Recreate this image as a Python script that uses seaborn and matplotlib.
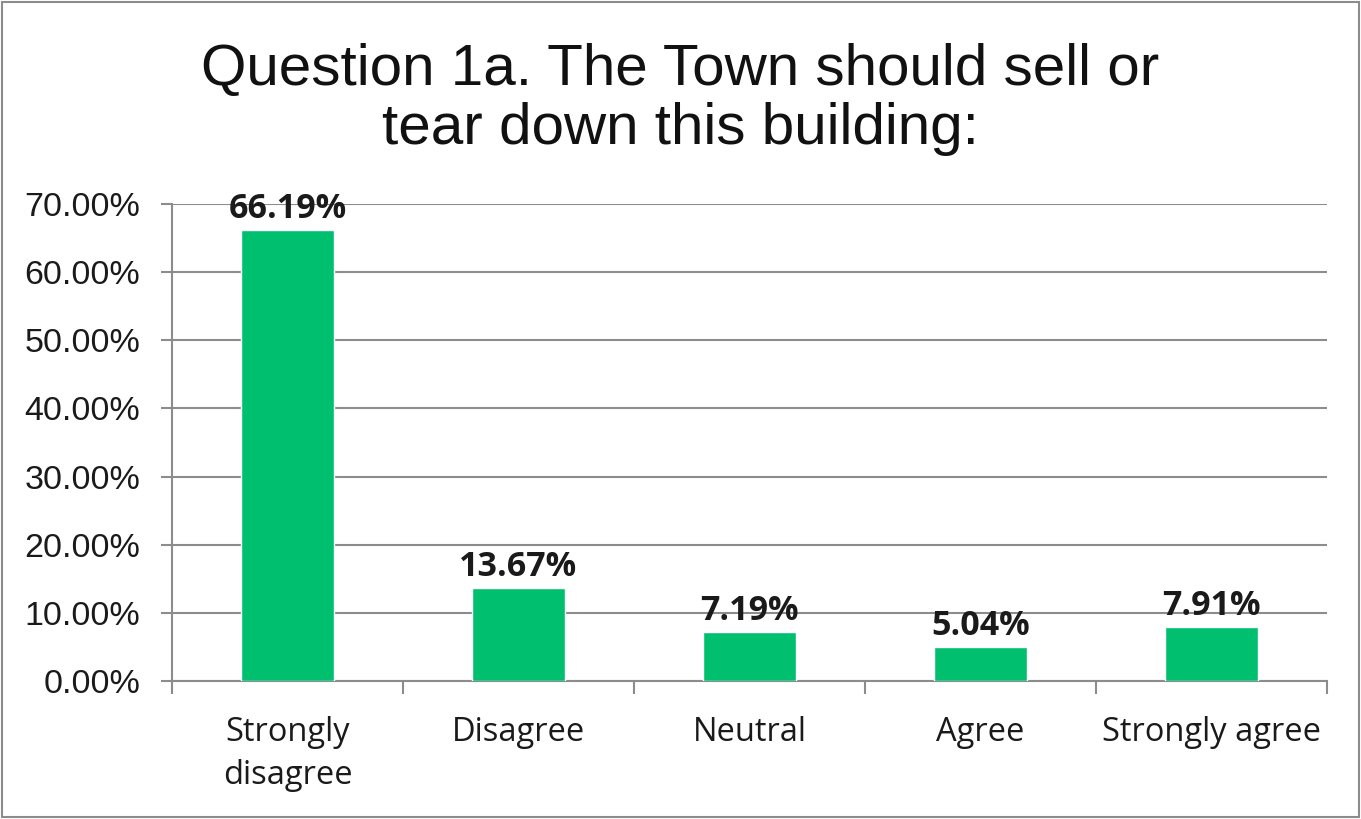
import matplotlib.pyplot as plt
import seaborn as sns
from matplotlib.patches import Rectangle
from matplotlib.ticker import FixedLocator, PercentFormatter

# ── Datos ────────────────────────────────────────────────────────────────
CATEGORIAS = ["Strongly\ndisagree", "Disagree", "Neutral", "Agree", "Strongly agree"]
VALORES = [66.19, 13.67, 7.19, 5.04, 7.91]
ETIQUETAS = ["66.19%", "13.67%", "7.19%", "5.04%", "7.91%"]
Y_TICKS = [0, 10, 20, 30, 40, 50, 60, 70]

VERDE = "#00BF6F"
GRIS = "#8C8C8C"

sns.set_theme(style="white")
plt.rcParams["font.family"] = ["Liberation Sans", "DejaVu Sans"]

fig = plt.figure(figsize=(13.61, 8.19), dpi=100)
ax = fig.add_axes([0.1264, 0.1685, 0.8486, 0.5825])

sns.barplot(x=CATEGORIAS, y=VALORES, color=VERDE, width=0.4,
            saturation=1, ax=ax, zorder=3)

ax.set_ylim(0, 70)
ax.set_xlim(-0.5, 4.5)
ax.yaxis.set_major_locator(FixedLocator(Y_TICKS))
ax.yaxis.set_major_formatter(PercentFormatter(decimals=2))
ax.grid(axis="y", color=GRIS, linewidth=1.5, zorder=0)
ax.set_axisbelow(True)

for s in ["top", "right"]:
    ax.spines[s].set_visible(False)
for s in ["left", "bottom"]:
    ax.spines[s].set_color(GRIS)
    ax.spines[s].set_linewidth(1.5)

ax.tick_params(axis="y", length=8, width=1.5, color=GRIS, labelsize=24.5,
               labelcolor="#1a1a1a", pad=15, left=True)
ax.tick_params(axis="x", which="major", length=0, pad=25)
ax.xaxis.set_minor_locator(FixedLocator([-0.5, 0.5, 1.5, 2.5, 3.5, 4.5]))
ax.tick_params(axis="x", which="minor", length=9, width=1.5, color=GRIS,
               bottom=True)
for lbl in ax.get_xticklabels():
    lbl.set_fontfamily(["Open Sans", "DejaVu Sans"])
    lbl.set_fontsize(23.5)
    lbl.set_color("#1a1a1a")
    lbl.set_linespacing(1.4)

for bar, txt in zip(ax.patches, ETIQUETAS):
    ax.annotate(txt, (bar.get_x() + bar.get_width() / 2, bar.get_height()),
                xytext=(0, 8.5), textcoords="offset points",
                ha="center", va="baseline", fontsize=24.5, fontweight="bold",
                family=["Open Sans", "DejaVu Sans"], color="#1a1a1a")

ax.set_xlabel("")
ax.set_ylabel("")

fig.text(0.5, 0.879, "Question 1a. The Town should sell or\ntear down this building:",
         ha="center", va="center", fontsize=42, linespacing=1.12, color="#111111")

fig.patches.append(Rectangle((0.0015, 0.0025), 0.997, 0.995, transform=fig.transFigure,
                             fill=False, edgecolor=GRIS, linewidth=1.5))

fig.savefig("out.png", dpi=100, facecolor="white")
